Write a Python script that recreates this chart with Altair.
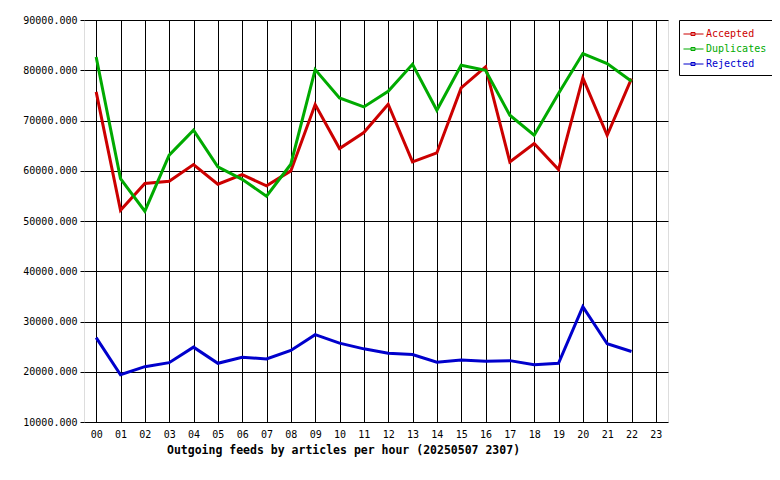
import altair as alt
import pandas as pd

hours = [f"{h:02d}" for h in range(24)]
accepted = [75700, 52150, 57450, 57900, 61230, 57320, 59240, 56990, 59970, 73170, 64420, 67600,
            73240, 61760, 63550, 76490, 80660, 61760, 65410, 60240, 78470, 67070, 78340]
duplicates = [82650, 58450, 51950, 63090, 68060, 60770, 58300, 54930, 61300, 80130, 74500, 72700,
              75820, 81190, 72040, 80990, 80000, 71050, 67070, 75360, 83320, 81330, 77810]
rejected = [26780, 19400, 21010, 21810, 24900, 21680, 22890, 22550, 24230, 27380, 25700, 24560,
            23690, 23420, 21880, 22350, 22080, 22210, 21410, 21680, 32950, 25570, 24030]
series = ["Accepted", "Duplicates", "Rejected"]
colors = ["#cc0000", "#00aa00", "#0000cc"]

rows = []
for name, vals in zip(series, [accepted, duplicates, rejected]):
    for h, v in zip(hours, vals):
        rows.append({"hour": h, "value": v, "series": name})
df = pd.DataFrame(rows)

FONT = "DejaVu Sans Mono"

chart = alt.Chart(df).mark_line(strokeWidth=3, strokeJoin="miter").encode(
    x=alt.X("hour:O",
            scale=alt.Scale(type="point", domain=hours, padding=0.5),
            axis=alt.Axis(title="Outgoing feeds by articles per hour (20250507 2307)",
                          labelAngle=0, ticks=False, labelPadding=7,
                          labelFont=FONT, labelFontSize=10, labelColor="black",
                          titleFont=FONT, titleFontSize=11.5, titleFontWeight="bold",
                          titleColor="black", titlePadding=5, titleX=259, titleAlign="center",
                          grid=True, gridColor="black", gridOpacity=1, gridWidth=1,
                          domain=False)),
    y=alt.Y("value:Q",
            scale=alt.Scale(domain=[10000, 90000], nice=False, zero=False),
            axis=alt.Axis(title=None, values=list(range(10000, 90001, 10000)), format=".3f",
                          labelFont=FONT, labelFontSize=10, labelColor="black",
                          tickSize=4, tickColor="black", labelPadding=3,
                          grid=True, gridColor="black", gridOpacity=1, gridWidth=1,
                          domain=False)),
    color=alt.Color("series:N",
                    scale=alt.Scale(domain=series, range=colors),
                    legend=alt.Legend(title=None, orient="none", legendX=595, legendY=0,
                                      fillColor="white", strokeColor="black", padding=6,
                                      labelFont=FONT, labelFontSize=10,
                                      labelColor={"expr": "datum.label == 'Accepted' ? '#cc0000' : datum.label == 'Duplicates' ? '#00aa00' : '#0000cc'"},
                                      symbolType="M-1.27,0H1.4M-0.27,-0.2H0.27V0.2H-0.27Z",
                                      symbolSize=225, symbolStrokeWidth=1,
                                      symbolFillColor="transparent",
                                      labelOffset=5, rowPadding=2)),
).properties(
    width=584, height=402,
    autosize=alt.AutoSizeParams(type="none"),
    padding={"left": 76, "top": 12, "right": 104, "bottom": 58},
).configure_view(
    fill="#e0e0e0", stroke="black", strokeWidth=1
).configure(background="white")

chart.save("out.html", embed_options={"renderer": "svg", "actions": False})
